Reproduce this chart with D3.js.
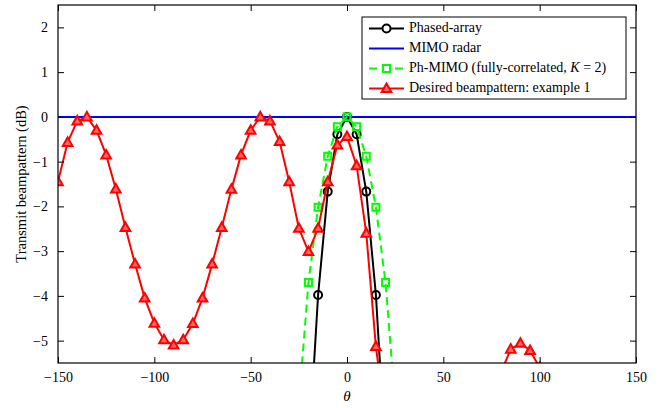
<!DOCTYPE html>
<meta charset="utf-8">
<head>
<style>
  body { margin: 0; background: #fff; }
  text { font-family: "Liberation Serif", "Times New Roman", serif; }
</style>
</head>
<body>
<div id="my_dataviz"></div>
<script src="https://d3js.org/d3.v7.min.js"></script>
<script>
  // angles (deg) and beampattern values (dB)
  const thetaDesired = d3.range(-150, 151, 5);
  const desired = [
    -1.45, -0.57, -0.09, 0.0, -0.30, -0.85, -1.61, -2.47, -3.29, -4.05,
    -4.61, -4.98, -5.10, -4.98, -4.62, -4.05, -3.29, -2.47, -1.62, -0.85,
    -0.30, 0.0, -0.09, -0.55, -1.45, -2.49, -3.01, -2.49, -1.45, -0.63,
    -0.44, -1.09, -2.60, -5.13, -6.8, null, null, null, null, null,
    null, null, null, null, null, null, -5.7, -5.19, -5.06, -5.22,
    -5.6, null, null, null, null, null, null, null, null, null, null
  ];
  const thetaPhased = [-20, -15, -10, -5, 0, 5, 10, 15, 20];
  const phased = [-7.6, -3.98, -1.67, -0.39, 0, -0.39, -1.67, -3.98, -7.6];
  const thetaMimo = [-150, 150];
  const mimo = [0, 0];
  const thetaPhMimo = [-25, -20, -15, -10, -5, 0, 5, 10, 15, 20, 25];
  const phMimo = [-6.4, -3.7, -2.02, -0.88, -0.22, 0, -0.22, -0.88, -2.02, -3.7, -6.4];
  const xTicks = [-150, -100, -50, 0, 50, 100, 150];
  const yTicks = [-5, -4, -3, -2, -1, 0, 1, 2];

  const margin = {top: 5, right: 28, bottom: 45, left: 58},
      width = 664 - margin.left - margin.right,
      height = 408 - margin.top - margin.bottom;

  const svg = d3.select("#my_dataviz")
    .append("svg")
      .attr("width", 664)
      .attr("height", 408)
    .append("g")
      .attr("transform", `translate(${margin.left}, ${margin.top})`);

  const x = d3.scaleLinear().domain([-150, 150]).range([0, width]);
  const y = d3.scaleLinear().domain([-5.5, 2.5]).range([height, 0]);

  svg.append("clipPath").attr("id", "clip")
    .append("rect").attr("width", width).attr("height", height);

  const plot = svg.append("g").attr("clip-path", "url(#clip)");

  function series(th, vals) {
    return th.map((t, i) => ({t: t, v: vals[i]}));
  }
  const line = d3.line()
    .defined(d => d.v !== null)
    .x(d => x(d.t)).y(d => y(d.v));

  // phased-array
  const dPhased = series(thetaPhased, phased);
  plot.append("path").datum(dPhased)
    .attr("d", line).attr("fill", "none")
    .attr("stroke", "#000").attr("stroke-width", 2);
  plot.selectAll(".circ").data(dPhased).join("circle")
    .attr("cx", d => x(d.t)).attr("cy", d => y(d.v)).attr("r", 4)
    .attr("fill", "none").attr("stroke", "#000").attr("stroke-width", 2);

  // MIMO radar
  plot.append("path").datum(series(thetaMimo, mimo))
    .attr("d", line).attr("fill", "none")
    .attr("stroke", "#0000ff").attr("stroke-width", 2);

  // Ph-MIMO
  const dPh = series(thetaPhMimo, phMimo);
  plot.append("path").datum(dPh)
    .attr("d", line).attr("fill", "none")
    .attr("stroke", "#00ff00").attr("stroke-width", 2)
    .attr("stroke-dasharray", "8,5");
  plot.selectAll(".sq").data(dPh).join("rect")
    .attr("x", d => x(d.t) - 3.5).attr("y", d => y(d.v) - 3.5)
    .attr("width", 7).attr("height", 7)
    .attr("fill", "none").attr("stroke", "#00ff00").attr("stroke-width", 2);

  // desired beampattern
  const dDes = series(thetaDesired, desired);
  plot.append("path").datum(dDes)
    .attr("d", line).attr("fill", "none")
    .attr("stroke", "#ff0000").attr("stroke-width", 2);
  const tri = "M0,-5L4.8,3.5L-4.8,3.5Z";
  plot.selectAll(".tri").data(dDes.filter(d => d.v !== null)).join("path")
    .attr("d", tri)
    .attr("transform", d => `translate(${x(d.t)},${y(d.v)})`)
    .attr("fill", "#ff6666").attr("stroke", "#ff0000").attr("stroke-width", 2);

  // axes, ticks inside on all four sides
  const tl = 6;
  const fmt = d3.format("");
  svg.append("g").attr("transform", `translate(0,${height})`)
    .call(d3.axisBottom(x).tickValues(xTicks).tickSizeInner(-tl).tickSizeOuter(0).tickPadding(9).tickFormat(fmt));
  svg.append("g").attr("transform", `translate(0,0)`)
    .call(d3.axisTop(x).tickValues(xTicks).tickSizeInner(-tl).tickSizeOuter(0).tickFormat(""));
  svg.append("g")
    .call(d3.axisLeft(y).tickValues(yTicks).tickSizeInner(-tl).tickSizeOuter(0).tickPadding(10).tickFormat(fmt));
  svg.append("g").attr("transform", `translate(${width},0)`)
    .call(d3.axisRight(y).tickValues(yTicks).tickSizeInner(-tl).tickSizeOuter(0).tickFormat(""));
  svg.selectAll(".domain").remove();
  svg.selectAll(".tick text")
    .style("font-family", "Liberation Serif").style("font-size", "14px").attr("fill", "#000");
  svg.selectAll(".tick line").attr("stroke", "#000");

  svg.append("rect").attr("width", width).attr("height", height)
    .attr("fill", "none").attr("stroke", "#000").attr("stroke-width", 1.2);

  // labels
  svg.append("text")
    .attr("transform", `translate(${23 - margin.left},${height / 2}) rotate(-90)`)
    .attr("text-anchor", "middle").attr("dominant-baseline", "middle")
    .style("font-size", "14.5px")
    .text("Transmit beampattern (dB)");
  svg.append("text")
    .attr("x", x(0)).attr("y", height + 38)
    .attr("text-anchor", "middle")
    .style("font-size", "15px").style("font-style", "italic")
    .text("θ");

  // legend
  const legend = svg.append("g").attr("transform", `translate(${362 - margin.left},${17 - margin.top})`);
  legend.append("rect").attr("width", 264).attr("height", 82)
    .attr("fill", "#fff").attr("stroke", "#000").attr("stroke-width", 1);
  const items = [
    {label: "Phased-array", color: "#000", dash: null, mark: "circle"},
    {label: "MIMO radar", color: "#0000ff", dash: null, mark: null},
    {label: "Ph-MIMO (fully-correlated, ", color: "#00ff00", dash: "8,5", mark: "square"},
    {label: "Desired beampattern: example 1", color: "#ff0000", dash: null, mark: "tri"}
  ];
  items.forEach((it, i) => {
    const g = legend.append("g").attr("transform", `translate(0,${11.5 + 20 * i})`);
    g.append("line").attr("x1", 7).attr("x2", 42).attr("y1", 0).attr("y2", 0)
      .attr("stroke", it.color).attr("stroke-width", 2)
      .attr("stroke-dasharray", it.dash);
    if (it.mark === "circle") {
      g.append("circle").attr("cx", 24.5).attr("cy", 0).attr("r", 4)
        .attr("fill", "#fff").attr("stroke", it.color).attr("stroke-width", 2);
    } else if (it.mark === "square") {
      g.append("rect").attr("x", 21).attr("y", -3.5).attr("width", 7).attr("height", 7)
        .attr("fill", "#fff").attr("stroke", it.color).attr("stroke-width", 2);
    } else if (it.mark === "tri") {
      g.append("path").attr("d", tri).attr("transform", "translate(24.5,0)")
        .attr("fill", "#ff6666").attr("stroke", it.color).attr("stroke-width", 2);
    }
    const t = g.append("text").attr("x", 47).attr("y", 0)
      .attr("dominant-baseline", "middle").style("font-size", "14px")
      .text(it.label);
    if (i === 2) {
      t.append("tspan").style("font-style", "italic").text("K");
      t.append("tspan").text(" = 2)");
    }
  });
</script>
</body>
